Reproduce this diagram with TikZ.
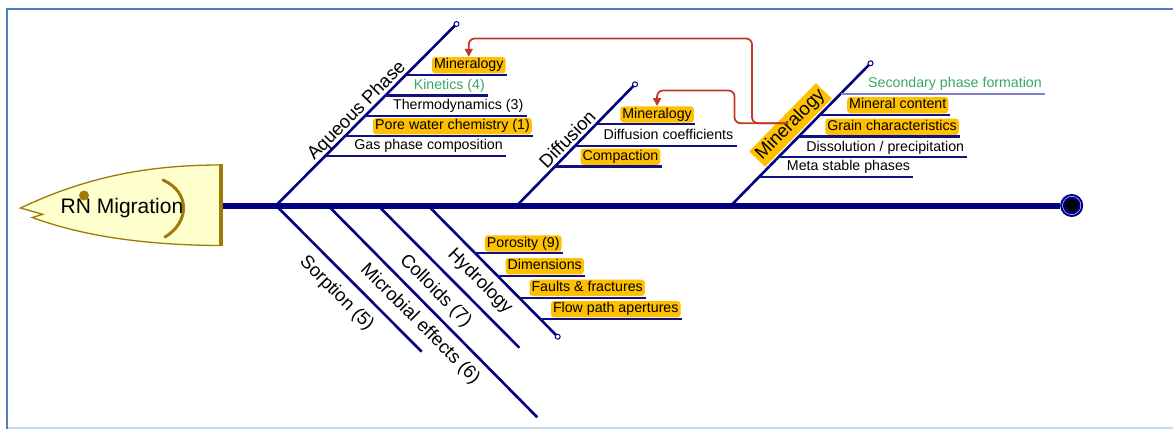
\documentclass[tikz,border=0pt]{standalone}
\usepackage{fontspec}
\setmainfont{Liberation Sans}
\usetikzlibrary{arrows.meta}

\definecolor{bone}{RGB}{0,0,128}
\definecolor{subbone}{RGB}{16,16,128}
\definecolor{lightbone}{RGB}{128,128,200}
\definecolor{hilite}{RGB}{255,192,0}
\definecolor{greentxt}{RGB}{58,164,112}
\definecolor{headfill}{RGB}{255,255,206}
\definecolor{headline}{RGB}{158,122,8}
\definecolor{linkred}{RGB}{192,57,43}
\definecolor{framedark}{RGB}{79,129,189}
\definecolor{framelight}{RGB}{198,217,241}

% one sub-cause: line style, start, end, name, label style, label text
\newcommand\addtwig[6]{%
  \coordinate (#4s) at #2;
  \coordinate (#4e) at #3;
  \draw[#1] (#4s) -- (#4e);
  \node[#5] (#4) at (#4e) {#6};}

\begin{document}
\begin{tikzpicture}[x=1pt,y=-1pt,
  spine/.style={line width=6pt,draw=bone},
  bone/.style={line width=2.6pt,draw=bone},
  twig/.style={line width=2.1pt,draw=subbone},
  paletwig/.style={line width=1.8pt,draw=lightbone},
  cause/.style={font=\fontsize{18.5}{20}\selectfont,inner sep=1pt},
  item/.style={font=\fontsize{14.2}{16}\selectfont,anchor=south east,
    xshift=-1pt,yshift=1.5pt,inner xsep=2pt,inner ysep=1.5pt,
    text height=10.3pt,text depth=3pt},
  hot/.style={item,fill=hilite,rounded corners=3pt},
  greenitem/.style={item,text=greentxt},
  tip/.style={circle,draw=bone,fill=white,line width=1pt,inner sep=0pt,minimum size=5pt},
  link/.style={draw=linkred,line width=1.8pt,rounded corners=6pt,
    -{Triangle[length=8pt,width=8pt]}},
]
\useasboundingbox (0,0) rectangle (1173,429);

% frame
\draw[framelight,line width=1.5pt] (7,428.2) -- (1173,428.2);
\draw[framedark,line width=2pt] (6.8,429) -- (6.8,8.5) -- (1173,8.5);

% spine with end marker
\node[circle,draw=bone,line width=2pt,fill=white,minimum size=21pt,inner sep=0pt] (tail) at (1071.7,205.5) {};
\fill[bone] (tail.center) circle (7.5pt);
\coordinate (sp0) at (222,205.5);
\draw[spine] (sp0) -- (tail);

% main bones
\coordinate (aq0) at (276,205.5); \coordinate (aq1) at (456.5,24);
\coordinate (df0) at (517,205.5); \coordinate (df1) at (635,84.3);
\coordinate (mn0) at (731,205.5); \coordinate (mn1) at (870.5,63.3);
\coordinate (so0) at (276,205.5); \coordinate (so1) at (421.7,351.7);
\coordinate (mi0) at (328,205.5); \coordinate (mi1) at (537.3,417.3);
\coordinate (co0) at (378,205.5); \coordinate (co1) at (519.3,347.7);
\coordinate (hy0) at (428,205.5); \coordinate (hy1) at (557.7,336.7);
\foreach \b in {aq,df,mn,so,mi,co,hy} \draw[bone] (\b0) -- (\b1);

% bone labels
\node[cause,rotate=45.3] (aq) at (357,111) {Aqueous Phase};
\node[cause,rotate=45.8] (df) at (567,139) {Diffusion};
\node[cause,fill=hilite,inner sep=2.5pt,rotate=45.6] (mn) at (790.5,125) {Mineralogy};
\node[cause,rotate=-45.2] (so) at (336.5,293.5) {Sorption (5)};
\node[cause,rotate=-45.2] (mi) at (420,324) {Microbial effects (6)};
\node[cause,rotate=-45.2] (co) at (435.5,291) {Colloids (7)};
\node[cause,rotate=-45.1] (hy) at (480,281.5) {Hydrology};

% Aqueous Phase
\addtwig{twig}{(405.6,75)}{(506.7,75)}{a1}{hot}{Mineralogy}
\addtwig{twig}{(385.3,95.5)}{(488,95.5)}{a2}{greenitem}{Kinetics (4)}
\addtwig{twig}{(365,116)}{(526.5,116)}{a3}{item}{Thermodynamics (3)}
\addtwig{twig}{(345.2,136)}{(533,136)}{a4}{hot}{Pore water chemistry (1)}
\addtwig{twig}{(325.5,156)}{(506,156)}{a5}{item}{Gas phase composition}

% Diffusion
\addtwig{twig}{(596.3,124.3)}{(695,124.3)}{d1}{hot}{Mineralogy}
\addtwig{twig}{(575.3,146)}{(736.5,146)}{d2}{item}{Diffusion coefficients}
\addtwig{twig}{(555.4,166.5)}{(661.5,166.5)}{d3}{hot}{Compaction}

% Mineralogy
\addtwig{paletwig}{(840.6,94)}{(1045,94)}{m1}{greenitem}{Secondary phase formation}
\addtwig{twig}{(820.1,115)}{(949.5,115)}{m2}{hot}{Mineral content}
\addtwig{twig}{(799,136.5)}{(960,136.5)}{m3}{hot}{Grain characteristics}
\addtwig{twig}{(778.7,157.3)}{(967.3,157.3)}{m4}{item}{Dissolution / precipitation}
\addtwig{twig}{(759.7,176.7)}{(913.3,176.7)}{m5}{item}{Meta stable phases}

% Hydrology
\addtwig{twig}{(475,253.3)}{(562.7,253.3)}{h1}{hot}{Porosity (9)}
\addtwig{twig}{(497.4,276)}{(585,276)}{h2}{hot}{Dimensions}
\addtwig{twig}{(518.3,297.7)}{(646,297.7)}{h3}{hot}{Faults \& fractures}
\addtwig{twig}{(540.1,319)}{(681.7,319)}{h4}{hot}{Flow path apertures}

% cross links from the Mineralogy bone
\coordinate (msrc) at (788,123.2);
\coordinate (jA) at (752,38.5);
\coordinate (jB) at (734.5,90.5);
\draw[link] (msrc) -| (jA) -| (a1.north);
\draw[link] (msrc) -| (jB) -| (d1.north);

% open bone ends
\node[tip] (aqtip) at (aq1) {};
\node[tip] (dftip) at (df1) {};
\node[tip] (mntip) at (mn1) {};
\node[tip] (hytip) at (hy1) {};

% fish head
\draw[line width=1.3pt,draw=headline,fill=headfill]
  (220,165) .. controls (140,165) and (80,180) .. (20.5,208)
  -- (42.7,214.3) -- (32.3,217.5)
  .. controls (80,235) and (140,245) .. (220,245.5) -- cycle;
\draw[line width=4pt,draw=headline] (221,164.3) -- (221,246.3);
\fill[headline] (84,195.5) circle (5pt);
\draw[line width=3pt,draw=headline,line cap=round]
  (163,180) .. controls (190,192) and (190,222) .. (165,237);
\node[font=\fontsize{21}{24}\selectfont,anchor=base] (head) at (122,213.5) {RN Migration};
\end{tikzpicture}
\end{document}
